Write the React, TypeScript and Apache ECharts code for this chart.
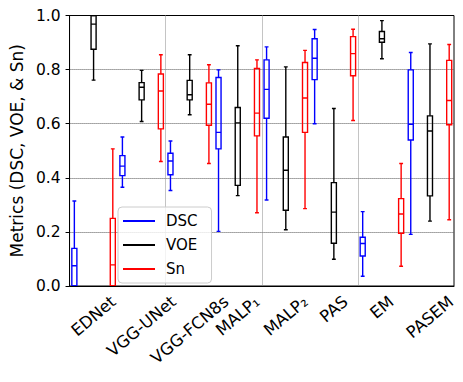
import React, { useEffect, useRef } from "react";
import * as echarts from "echarts";

// Methods on the x axis
const categories = ["EDNet", "VGG-UNet", "VGG-FCN8s", "MALP₁", "MALP₂", "PAS", "EM", "PASEM"];
// Each box: [min, Q1, median, Q3, max]
const dscBoxes = [
  [0.0, 0.0, 0.075, 0.139, 0.314],
  [0.365, 0.408, 0.443, 0.482, 0.551],
  [0.353, 0.411, 0.462, 0.491, 0.536],
  [0.202, 0.507, 0.568, 0.771, 0.799],
  [0.318, 0.62, 0.727, 0.836, 0.884],
  [0.6, 0.763, 0.842, 0.914, 0.948],
  [0.036, 0.111, 0.157, 0.18, 0.275],
  [0.191, 0.54, 0.598, 0.799, 0.863],
];
const voeBoxes = [
  [0.761, 0.875, 0.968, 1.0, 1.0],
  [0.608, 0.688, 0.735, 0.752, 0.797],
  [0.633, 0.688, 0.707, 0.76, 0.855],
  [0.334, 0.372, 0.603, 0.66, 0.888],
  [0.208, 0.28, 0.428, 0.551, 0.81],
  [0.099, 0.158, 0.273, 0.382, 0.656],
  [0.84, 0.901, 0.914, 0.941, 0.981],
  [0.24, 0.333, 0.573, 0.629, 0.895],
];
const snBoxes = [
  [0.0, 0.0, 0.078, 0.25, 0.507],
  [0.46, 0.581, 0.721, 0.784, 0.855],
  [0.453, 0.594, 0.672, 0.751, 0.818],
  [0.271, 0.555, 0.639, 0.804, 0.836],
  [0.286, 0.568, 0.695, 0.826, 0.871],
  [0.612, 0.777, 0.859, 0.922, 0.949],
  [0.073, 0.195, 0.266, 0.323, 0.453],
  [0.245, 0.596, 0.686, 0.834, 0.893],
];
const seriesNames = ["DSC", "VOE", "Sn"];
const seriesColors = ["#0000ff", "#000000", "#ff0000"];
const yTicks = [0, 0.2, 0.4, 0.6, 0.8, 1.0];

const FONT = '"DejaVu Sans", "Liberation Sans", sans-serif';
const GRID = { left: 63, right: 9, top: 15.5, bottom: 96 };
const W = 463;
const H = 382;

function makeRenderItem(offsetFrac: number, color: string) {
  return (params: any, api: any) => {
    const idx = api.value(0);
    const band = api.size([1, 0])[0];
    const cx = api.coord([idx, 0])[0] + band * offsetFrac;
    const yMin = api.coord([idx, api.value(1)])[1];
    const yQ1 = api.coord([idx, api.value(2)])[1];
    const yMed = api.coord([idx, api.value(3)])[1];
    const yQ3 = api.coord([idx, api.value(4)])[1];
    const yMax = api.coord([idx, api.value(5)])[1];
    const bw = band * 0.105;
    const cw = band * 0.08;
    const st = { stroke: color, lineWidth: 1.4, fill: "none" };
    return {
      type: "group",
      children: [
        { type: "line", shape: { x1: cx, y1: yQ1, x2: cx, y2: yMin }, style: st },
        { type: "line", shape: { x1: cx, y1: yQ3, x2: cx, y2: yMax }, style: st },
        { type: "line", shape: { x1: cx - cw / 2, y1: yMin, x2: cx + cw / 2, y2: yMin }, style: st },
        { type: "line", shape: { x1: cx - cw / 2, y1: yMax, x2: cx + cw / 2, y2: yMax }, style: st },
        { type: "rect", shape: { x: cx - bw / 2, y: yQ3, width: bw, height: yQ1 - yQ3 }, style: st },
        { type: "line", shape: { x1: cx - bw / 2, y1: yMed, x2: cx + bw / 2, y2: yMed }, style: st },
      ],
    };
  };
}

function measure(text: string, size: number) {
  const c = document.createElement("canvas").getContext("2d");
  if (!c) return text.length * size * 0.6;
  c.font = `${size}px "DejaVu Sans"`;
  return c.measureText(text).width;
}

export default function App() {
  const ref = useRef<HTMLDivElement>(null);
  useEffect(() => {
    if (!ref.current) return;
    const chart = echarts.init(ref.current, null, { renderer: "svg" });
    const allBoxes = [dscBoxes, voeBoxes, snBoxes];
    const offsets = [-0.4, 0, 0.4];
    chart.setOption({
      animation: false,
      backgroundColor: "#ffffff",
      grid: {
        ...GRID,
        show: true,
        borderColor: "#000",
        borderWidth: 1,
        backgroundColor: "transparent",
      },
      legend: {
        orient: "vertical",
        left: 118,
        top: 207,
        data: seriesNames,
        icon: "rect",
        itemWidth: 32,
        itemHeight: 2,
        itemGap: 6,
        padding: [5, 14, 5, 5],
        borderColor: "#cccccc",
        borderWidth: 1,
        borderRadius: 4,
        backgroundColor: "rgba(255,255,255,0.8)",
        textStyle: { fontFamily: FONT, fontSize: 15, color: "#000", lineHeight: 18, padding: [0, 0, 0, 6] },
      },
      xAxis: {
        type: "category",
        data: categories,
        boundaryGap: true,
        axisLine: { lineStyle: { color: "#000", width: 1 } },
        axisTick: { alignWithLabel: true, length: 4, lineStyle: { color: "#000" } },
        axisLabel: { show: false },
        splitLine: {
          show: true,
          showMinLine: false,
          showMaxLine: false,
          lineStyle: { color: "#888", type: "dotted", width: 1 },
        },
      },
      yAxis: {
        type: "value",
        min: 0,
        max: 1,
        interval: 0.2,
        name: "Metrics (DSC, VOE, & Sn)",
        nameLocation: "middle",
        nameGap: 37,
        nameTextStyle: { fontFamily: FONT, fontSize: 17, color: "#000" },
        axisLine: { show: true, lineStyle: { color: "#000", width: 1 } },
        axisTick: { show: true, length: 4, lineStyle: { color: "#000" } },
        axisLabel: {
          fontFamily: FONT,
          fontSize: 15.5,
          color: "#000",
          margin: 9,
          formatter: (v: number) => (yTicks.includes(Math.round(v * 10) / 10) ? v.toFixed(1) : ""),
        },
        splitLine: {
          show: true,
          showMinLine: false,
          showMaxLine: false,
          lineStyle: { color: "#555", type: "dotted", width: 1 },
        },
      },
      series: seriesNames.map((name, si) => ({
        name,
        type: "custom",
        clip: true,
        itemStyle: { color: seriesColors[si] },
        renderItem: makeRenderItem(offsets[si], seriesColors[si]),
        encode: { x: 0, y: [1, 2, 3, 4, 5] },
        data: allBoxes[si].map((b, i) => [i, ...b]),
        z: 3,
      })),
    });

    // Rotated category labels, centred under each tick like the reference
    const fs = 16.5;
    const rot = (40 * Math.PI) / 180;
    const axisY = H - GRID.bottom;
    const top = axisY + 6;
    const lineH = fs * 1.16;
    const labels = categories.map((c, i) => {
      const px = chart.convertToPixel({ xAxisIndex: 0 }, i) as number;
      const L = measure(c, fs);
      const bboxH = L * Math.sin(rot) + lineH * Math.cos(rot);
      return {
        type: "text",
        x: px,
        y: top + bboxH / 2,
        rotation: rot,
        style: {
          text: c,
          fontFamily: FONT,
          fontSize: fs,
          fill: "#000",
          align: "center",
          verticalAlign: "middle",
        },
      };
    });
    chart.setOption({ graphic: labels });
    return () => chart.dispose();
  }, []);
  return (
    <div
      ref={ref}
      style={{ position: "fixed", left: 0, top: 0, width: W, height: H, background: "#fff" }}
    />
  );
}
